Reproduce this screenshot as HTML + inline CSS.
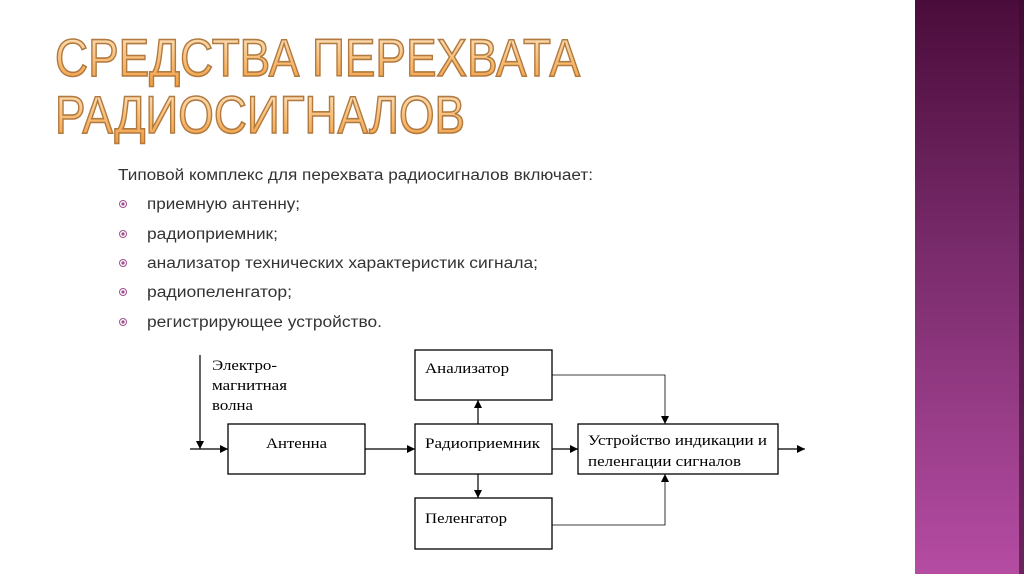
<!DOCTYPE html>
<html><head><meta charset="utf-8"><style>
html,body{margin:0;padding:0;background:#fff;}
svg{display:block}
</style></head><body>
<svg width="1024" height="574" viewBox="0 0 1024 574" xmlns="http://www.w3.org/2000/svg">
<defs>
<linearGradient id="pur" x1="0" y1="0" x2="0" y2="1">
<stop offset="0" stop-color="#4a0c3a"/>
<stop offset="0.45" stop-color="#7a2c6c"/>
<stop offset="1" stop-color="#b54ca3"/>
</linearGradient>
<linearGradient id="org" x1="0" y1="0" x2="0" y2="1">
<stop offset="0" stop-color="#fde6c6"/>
<stop offset="0.5" stop-color="#f9c07a"/>
<stop offset="1" stop-color="#f29a3a"/>
</linearGradient>
<marker id="ar" viewBox="0 0 10 10" refX="10" refY="5" markerWidth="8" markerHeight="8" orient="auto" markerUnits="userSpaceOnUse"><path d="M0,0L10,5L0,10z" fill="#000"/></marker>
</defs>
<rect x="915" y="0" width="109" height="574" fill="url(#pur)"/>
<rect x="1019" y="0" width="5" height="574" fill="#3a0a2e" opacity="0.6"/>
<g font-family="Liberation Sans, sans-serif" font-size="53" fill="url(#org)" stroke="#b07a40" stroke-width="1.6">
<text x="55" y="76" textLength="525" lengthAdjust="spacingAndGlyphs">СРЕДСТВА ПЕРЕХВАТА</text>
<text x="55" y="133" textLength="410" lengthAdjust="spacingAndGlyphs">РАДИОСИГНАЛОВ</text>
</g>
<g font-family="Liberation Sans, sans-serif" font-size="15.5" fill="#333" lengthAdjust="spacingAndGlyphs">
<text x="118" y="180" textLength="475" lengthAdjust="spacingAndGlyphs">Типовой комплекс для перехвата радиосигналов включает:</text>
<text x="147" y="209" textLength="153" lengthAdjust="spacingAndGlyphs">приемную антенну;</text>
<text x="147" y="239" textLength="131" lengthAdjust="spacingAndGlyphs">радиоприемник;</text>
<text x="147" y="268" textLength="391" lengthAdjust="spacingAndGlyphs">анализатор технических характеристик сигнала;</text>
<text x="147" y="297" textLength="145" lengthAdjust="spacingAndGlyphs">радиопеленгатор;</text>
<text x="147" y="327" textLength="235" lengthAdjust="spacingAndGlyphs">регистрирующее устройство.</text>
</g>
<g fill="none" stroke="#a05090" stroke-width="1">
<circle cx="123" cy="204" r="3.5"/><circle cx="123" cy="234" r="3.5"/><circle cx="123" cy="263" r="3.5"/><circle cx="123" cy="292" r="3.5"/><circle cx="123" cy="322" r="3.5"/>
</g>
<g fill="#a05090">
<circle cx="123" cy="204" r="1.6"/><circle cx="123" cy="234" r="1.6"/><circle cx="123" cy="263" r="1.6"/><circle cx="123" cy="292" r="1.6"/><circle cx="123" cy="322" r="1.6"/>
</g>
<g fill="#fff" stroke="#000" stroke-width="1.3">
<rect x="228" y="424" width="137" height="50"/>
<rect x="415" y="424" width="137" height="50"/>
<rect x="415" y="350" width="137" height="50"/>
<rect x="415" y="498" width="137" height="51"/>
<rect x="578" y="424" width="200" height="50"/>
</g>
<g stroke="#000" stroke-width="1.2" fill="none" marker-end="url(#ar)">
<line x1="190" y1="449" x2="228" y2="449"/>
<line x1="200" y1="355" x2="200" y2="449"/>
<line x1="365" y1="449" x2="415" y2="449"/>
<line x1="478" y1="424" x2="478" y2="400"/>
<line x1="478" y1="474" x2="478" y2="498"/>
<line x1="552" y1="449" x2="578" y2="449"/>
<line x1="778" y1="449" x2="805" y2="449"/>
</g>
<g stroke="#000" stroke-width="0.8" fill="none" marker-end="url(#ar)">
<polyline points="552,375 665,375 665,424"/>
<polyline points="552,525 665,525 665,474"/>
</g>
<g font-family="Liberation Serif, serif" font-size="15" fill="#000">
<text x="212" y="370" textLength="65" lengthAdjust="spacingAndGlyphs">Электро-</text>
<text x="212" y="390" textLength="75" lengthAdjust="spacingAndGlyphs">магнитная</text>
<text x="212" y="410" textLength="41" lengthAdjust="spacingAndGlyphs">волна</text>
<text x="266" y="448" textLength="61" lengthAdjust="spacingAndGlyphs">Антенна</text>
<text x="425" y="448" textLength="115" lengthAdjust="spacingAndGlyphs">Радиоприемник</text>
<text x="425" y="373" textLength="84" lengthAdjust="spacingAndGlyphs">Анализатор</text>
<text x="425" y="523" textLength="82" lengthAdjust="spacingAndGlyphs">Пеленгатор</text>
<text x="588" y="445" textLength="179" lengthAdjust="spacingAndGlyphs">Устройство индикации и</text>
<text x="588" y="466" textLength="153" lengthAdjust="spacingAndGlyphs">пеленгации сигналов</text>
</g>
</svg>
</body></html>
